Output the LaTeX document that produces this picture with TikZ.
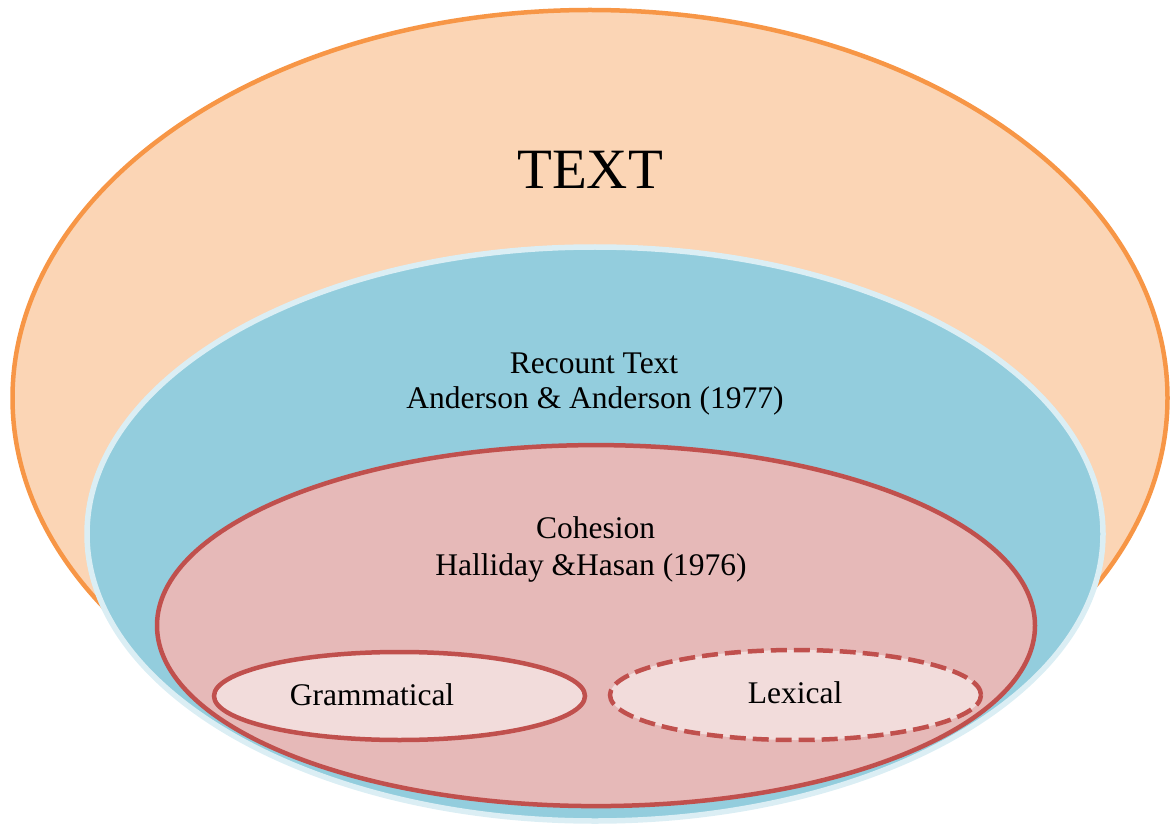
\documentclass[tikz,border=0pt]{standalone}
\usepackage{fontspec}
\setmainfont{Liberation Serif}
\usetikzlibrary{shapes.geometric}
\definecolor{orangeline}{HTML}{F79646}
\definecolor{orangefill}{HTML}{FBD5B5}
\definecolor{bluefill}{HTML}{93CDDD}
\definecolor{blueline}{HTML}{DBEEF4}
\definecolor{redline}{HTML}{C0504D}
\definecolor{redfill}{HTML}{E6B9B8}
\definecolor{palefill}{HTML}{F2DCDB}
\tikzset{
  oval/.style={ellipse, inner sep=0pt, outer sep=0pt},
  lbl/.style={anchor=base, inner sep=0pt, font=\fontsize{31.5}{36}\selectfont},
}
\begin{document}
\begin{tikzpicture}[x=1pt, y=-1pt]
\useasboundingbox (0,0) rectangle (1175,826);
\node[oval, draw=orangeline, fill=orangefill, line width=4.5pt,
      minimum width=1155pt, minimum height=776pt] (textov) at (590,398) {};
\node[oval, draw=blueline, fill=bluefill, line width=5.5pt,
      minimum width=1016pt, minimum height=574pt] (recount) at (595,534) {};
\node[oval, draw=redline, fill=redfill, line width=4.5pt,
      minimum width=878pt, minimum height=361pt] (cohesion) at (596,625.6) {};
\node[oval, draw=redline, fill=palefill, line width=4.5pt,
      minimum width=371pt, minimum height=88pt] (gram) at (399.5,696) {};
\node[oval, draw=redline, fill=palefill, line width=4.5pt, dash pattern=on 16pt off 7pt,
      minimum width=371pt, minimum height=90pt] (lex) at (795.5,695) {};
\node[anchor=base, inner sep=0pt, font=\fontsize{57}{64}\selectfont] (ttext) at (590,189) {TEXT};
\node[lbl] (trecount) at (594,373) {Recount Text};
\node[lbl] (tanderson) at (595,408) {Anderson \& Anderson (1977)};
\node[lbl] (tcohesion) at (595.5,538) {Cohesion};
\node[lbl] (thalliday) at (591,575) {Halliday \&Hasan (1976)};
\node[lbl] (tgram) at (372,705) {Grammatical};
\node[lbl] (tlex) at (795,703) {Lexical};
\end{tikzpicture}
\end{document}
